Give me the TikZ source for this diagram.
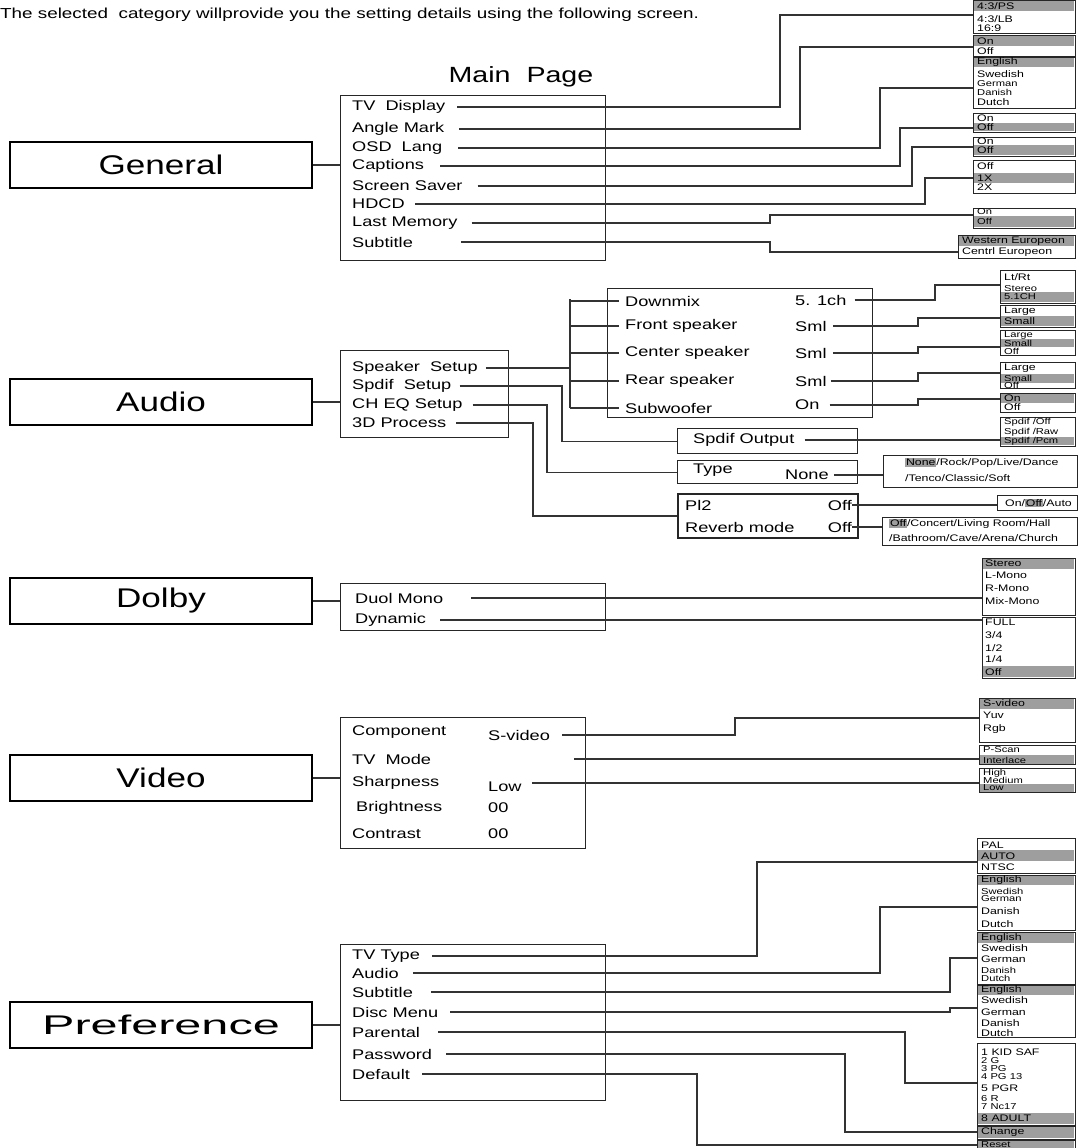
\documentclass[tikz,border=0pt]{standalone}
\usepackage{fontspec}
\setmainfont{Liberation Sans}[FakeStretch=1.3]
\newfontfamily\widefont{Liberation Sans}[FakeStretch=1.8]
\usetikzlibrary{calc}

\tikzset{
  catbox/.style={draw=black, line width=1.3pt, minimum width=302pt, minimum height=46pt, inner sep=0pt, font=\fontsize{27}{30}\selectfont},
  menubox/.style={draw=black!85, line width=1.3pt, anchor=north west, inner sep=0pt},
  item/.style={anchor=west, inner sep=0pt, font=\fontsize{14}{16}\selectfont},
  wire/.style={black!80, line width=1.2pt},
  optbox/.style={draw=black!85, line width=1.1pt, anchor=north west, inner sep=0pt},
  opt/.style={anchor=west, inner sep=0pt, font=\fontsize{9.5}{10}\selectfont},
  optsm/.style={opt, font=\fontsize{8.6}{9}\selectfont},
  hl/.style={fill=black!38},
}
\newcommand\menubox[5]{\node[menubox, minimum width={#4-#2}, minimum height={#5-#3}] (#1) at (#2,#3) {};}
\newcommand\optbox[6]{%
  \node[optbox, minimum width={#4-#2}, minimum height={#5-#3}] (#1) at (#2,#3) {};
  \coordinate (#1in) at (#2,#6);}
\newcommand\optrows[2]{\foreach \yy/\lbl in {#2}{\node[opt] (row-\yy) at (#1,\yy) {\lbl};}}
\newcommand\optrowsm[2]{\foreach \yy/\lbl in {#2}{\node[optsm] (row-\yy) at (#1,\yy) {\lbl};}}
\newcommand\hlw[1]{{\setlength{\fboxsep}{0.8pt}\colorbox{black!38}{#1}}}

\begin{document}
\begin{tikzpicture}[x=1pt, y=-1pt]
  \useasboundingbox (0,0) rectangle (1079,1148);

  % 1. heading
  \node[anchor=west, inner sep=0pt, font=\fontsize{14.5}{16}\selectfont] (intro) at (0,15)
    {The selected\ \ category willprovide you the setting details using the following screen.};
  \node[font=\fontsize{22}{24}\selectfont] (mainpage) at (521,77) {Main\ \ Page};

  % 2. General
  \node[catbox] (general) at (161,165) {General};
  \menubox{genmenu}{340}{95}{605}{260}
  \node[item] (tvd) at (352,107) {TV\ \ Display};
  \node[item] (ang) at (352,129) {Angle Mark};
  \node[item] (osd) at (352,148) {OSD\ \ Lang};
  \node[item] (cap) at (352,166) {Captions};
  \node[item] (scr) at (352,186) {Screen Saver};
  \node[item] (hdcd) at (352,204) {HDCD};
  \node[item] (lastm) at (352,223) {Last Memory};
  \node[item] (gsub) at (352,242) {Subtitle};
  \draw[wire] (general.east) -- (genmenu.west |- general.east);

  \fill[hl] (974,0) rectangle (1074,11);
  \fill[hl] (974,36) rectangle (1074,46);
  \fill[hl] (974,57) rectangle (1074,67);
  \fill[hl] (974,123) rectangle (1074,131);
  \fill[hl] (974,145) rectangle (1074,155);
  \fill[hl] (974,173) rectangle (1074,183);
  \fill[hl] (974,216) rectangle (1074,227);
  \fill[hl] (959,236) rectangle (1074,246);
  \optbox{dispopt}{973}{0}{1075}{33}{15}
  \optbox{angopt}{973}{35}{1075}{56}{47}
  \optbox{langopt}{973}{57}{1075}{108}{88}
  \optbox{capopt}{973}{113}{1075}{132}{128}
  \optbox{saveopt}{973}{137}{1075}{156}{147}
  \optbox{hdcdopt}{973}{160}{1075}{193}{178}
  \optbox{memopt}{973}{208}{1075}{228}{215}
  \optbox{subopt}{958}{235}{1075}{258}{252}
  \optrows{977}{6/{4:3/PS}, 19/{4:3/LB}, 28/{16:9}}
  \optrows{977}{41/On, 51/Off}
  \optrows{977}{62/English, 74/Swedish}
  \optrowsm{977}{84/German, 92/Danish}
  \optrows{977}{102/Dutch}
  \optrows{977}{118/On, 127/Off}
  \optrows{977}{141/On, 150/Off}
  \optrows{977}{166/Off, 178/1X, 187/2X}
  \optrowsm{977}{212/On, 221/Off}
  \optrows{962}{241/{Western Europeon}, 252/{Centrl Europeon}}

  \draw[wire] ([xshift=12]tvd.east) -| (780,15) -- (dispoptin);
  \draw[wire] ([xshift=15]ang.east) -| (800,47) -- (angoptin);
  \draw[wire] ([xshift=16]osd.east) -| (880,88) -- (langoptin);
  \draw[wire] ([xshift=16]cap.east) -| (900,128) -- (capoptin);
  \draw[wire] ([xshift=15]scr.east) -| (912,147) -- (saveoptin);
  \draw[wire] ([xshift=10]hdcd.east) -| (925,178) -- (hdcdoptin);
  \draw[wire] ([xshift=14]lastm.east) -| (770,215) -- (memoptin);
  \draw[wire] ([xshift=48]gsub.east) -| (770,252) -- (suboptin);

  % 3. Audio
  \node[catbox] (audio) at (161,402) {Audio};
  \menubox{audmenu}{340}{350}{508}{437}
  \node[item] (spk) at (352,368) {Speaker\ \ Setup};
  \node[item] (spd) at (352,386) {Spdif\ \ Setup};
  \node[item] (cheq) at (352,405) {CH EQ Setup};
  \node[item] (proc) at (352,423) {3D Process};
  \draw[wire] (audio.east) -- (audmenu.west |- audio.east);

  \menubox{spkmenu}{607}{288}{872}{417}
  \node[item] (dmix) at (625,301) {Downmix};
  \node[item] (front) at (625,326) {Front speaker};
  \node[item] (center) at (625,353) {Center speaker};
  \node[item] (rear) at (625,381) {Rear speaker};
  \node[item] (woof) at (625,408) {Subwoofer};
  \node[item] (dmixv) at (795,300) {5. 1ch};
  \node[item] (frontv) at (795,326) {Sml};
  \node[item] (centerv) at (795,353) {Sml};
  \node[item] (rearv) at (795,381) {Sml};
  \node[item] (woofv) at (795,405) {On};
  \coordinate (bustop) at (570,299);
  \coordinate (busbot) at (570,408);
  \draw[wire] (bustop) -- (busbot);
  \draw[wire] ([xshift=8]spk.east) -- (spk.east -| bustop);
  \foreach \n in {dmix,front,center,rear,woof}
    \draw[wire] (bustop |- \n.west) -- ([xshift=-6]\n.west);

  \menubox{spdout}{677}{428}{857}{453}
  \node[item] (spdtxt) at (693,440) {Spdif Output};
  \menubox{typebox}{677}{460}{857}{483}
  \node[item] (typetxt) at (693,470) {Type};
  \node[item] (typeval) at (785,475) {None};
  \node[menubox, line width=2pt, minimum width=180pt, minimum height=44pt] (pibox) at (677,493) {};
  \node[item] (pitxt) at (685,505) {Pl2};
  \node[item, anchor=east] (pival) at (852,505) {Off};
  \node[item] (revtxt) at (685,527) {Reverb mode};
  \node[item, anchor=east] (revval) at (852,527) {Off};
  \draw[wire] ([xshift=8]spd.east) -| ($(spdout.west)+(-115,0)$) -- (spdout.west);
  \draw[wire] ([xshift=10]cheq.east) -| ($(typebox.west)+(-130,0)$) -- (typebox.west);
  \draw[wire] ([xshift=10]proc.east) -| ($(pibox.west)+(-144,0)$) -- (pibox.west);

  \fill[hl] (1001,292) rectangle (1074,302);
  \fill[hl] (1001,316) rectangle (1074,326);
  \fill[hl] (1001,339) rectangle (1074,347);
  \fill[hl] (1001,374) rectangle (1074,383);
  \fill[hl] (1001,394) rectangle (1074,403);
  \fill[hl] (1001,437) rectangle (1074,445);
  \optbox{dmixopt}{1000}{270}{1075}{303}{285}
  \optbox{frontopt}{1000}{305}{1075}{327}{318}
  \optbox{centeropt}{1000}{330}{1075}{355}{347}
  \optbox{rearopt}{1000}{362}{1075}{388}{373}
  \optbox{woofopt}{1000}{393}{1075}{412}{399}
  \optbox{spdopt}{1000}{417}{1075}{446}{440}
  \optbox{typeopt}{883}{455}{1077}{487}{472}
  \optbox{piopt}{997}{495}{1077}{510}{503}
  \optbox{revopt}{882}{517}{1077}{545}{527}
  \optrows{1004}{277/{Lt/Rt}}
  \optrowsm{1004}{289/Stereo, 297/{5.1CH}}
  \optrows{1004}{311/Large, 321/Small}
  \optrowsm{1004}{335/Large, 343/Small, 351/Off}
  \optrows{1004}{368/Large}
  \optrowsm{1004}{378/Small, 385/Off}
  \optrows{1004}{398/On, 407/Off}
  \optrowsm{1004}{422/{Spdif /Off}, 432/{Spdif /Raw}, 441/{Spdif /Pcm}}
  \node[opt] (typerow1) at (905,463) {\hlw{None}/Rock/Pop/Live/Dance};
  \node[opt] (typerow2) at (905,478) {/Tenco/Classic/Soft};
  \node[opt] (pirow) at (1005,503) {On/\hlw{Off}/Auto};
  \node[opt] (revrow1) at (889,524) {\hlw{Off}/Concert/Living Room/Hall};
  \node[opt] (revrow2) at (889,538) {/Bathroom/Cave/Arena/Church};

  \draw[wire] ([xshift=8]dmixv.east) -| (935,285) -- (dmixoptin);
  \draw[wire] ([xshift=6]frontv.east) -| (918,318) -- (frontoptin);
  \draw[wire] ([xshift=6]centerv.east) -| (918,347) -- (centeroptin);
  \draw[wire] ([xshift=4]rearv.east) -| (918,373) -- (rearoptin);
  \draw[wire] ([xshift=10]woofv.east) -| (918,399) -- (woofoptin);
  \draw[wire] ([xshift=10]spdtxt.east) -- (spdtxt.east -| spdoptin);
  \draw[wire] ([xshift=5]typeval.east) -- (typeval.east -| typeopt.west);
  \draw[wire] (pival.east) -- (pival.east -| piopt.west);
  \draw[wire] (revval.east) -- (revval.east -| revopt.west);

  % 4. Dolby
  \node[catbox] (dolby) at (161,601) {Dolby};
  \menubox{dolmenu}{340}{583}{605}{630}
  \node[item] (mono) at (355,598) {Duol Mono};
  \node[item] (dyn) at (355,620) {Dynamic};
  \draw[wire] (dolby.east) -- (dolmenu.west |- dolby.east);
  \fill[hl] (983,559) rectangle (1074,569);
  \fill[hl] (983,666) rectangle (1074,677);
  \optbox{monoopt}{982}{558}{1075}{615}{602}
  \optbox{dynopt}{982}{617}{1075}{678}{619}
  \optrows{985}{563/Stereo, 575/L-Mono, 588/R-Mono, 601/Mix-Mono}
  \optrows{985}{622/FULL, 635/{3/4}, 648/{1/2}, 659/{1/4}, 672/Off}
  \draw[wire] ([xshift=28]mono.east) -- (mono.east -| monoopt.west);
  \draw[wire] ([xshift=14]dyn.east) -- (dyn.east -| dynopt.west);

  % 5. Video
  \node[catbox] (video) at (161,778) {Video};
  \menubox{vidmenu}{340}{717}{585}{848}
  \node[item] (comp) at (352,732) {Component};
  \node[item] (compv) at (488,735) {S-video};
  \node[item] (tvm) at (352,759) {TV\ \ Mode};
  \node[item] (sharp) at (352,783) {Sharpness};
  \node[item] (sharpv) at (488,787) {Low};
  \node[item] (bright) at (356,808) {Brightness};
  \node[item] (brightv) at (488,808) {00};
  \node[item] (contr) at (352,834) {Contrast};
  \node[item] (contrv) at (488,834) {00};
  \draw[wire] (video.east) -- (vidmenu.west |- video.east);
  \fill[hl] (980,699) rectangle (1074,709);
  \fill[hl] (980,755) rectangle (1074,764);
  \fill[hl] (980,784) rectangle (1074,792);
  \optbox{compopt}{979}{698}{1075}{742}{718}
  \optbox{tvmopt}{979}{745}{1075}{764}{761}
  \optbox{sharpopt}{979}{768}{1075}{792}{781}
  \optrows{983}{703/S-video, 715/Yuv, 729/Rgb}
  \optrowsm{983}{750/P-Scan, 760/Interlace}
  \optrowsm{983}{773/High, 780/Medium, 788/Low}
  \draw[wire] ([xshift=12]compv.east) -| (735,718) -- (compoptin);
  \draw[wire] ($(vidmenu.east |- tvm.east)+(-12,0)$) -- (tvm.east -| tvmopt.west);
  \draw[wire] ($(sharpv.east |- sharp.east)+(10,0)$) -- (sharp.east -| sharpopt.west);

  % 6. Preference
  \node[catbox, font=\widefont\fontsize{27}{30}\selectfont] (pref) at (161,1025) {Preference};
  \menubox{prefmenu}{340}{944}{605}{1100}
  \node[item] (tvt) at (352,956) {TV Type};
  \node[item] (paud) at (352,973) {Audio};
  \node[item] (psub) at (352,992) {Subtitle};
  \node[item] (disc) at (352,1012) {Disc Menu};
  \node[item] (parent) at (352,1032) {Parental};
  \node[item] (pass) at (352,1054) {Password};
  \node[item] (dflt) at (352,1074) {Default};
  \draw[wire] (pref.east) -- (prefmenu.west |- pref.east);
  \fill[hl] (978,850) rectangle (1074,861);
  \fill[hl] (978,876) rectangle (1074,885);
  \fill[hl] (978,933) rectangle (1074,943);
  \fill[hl] (978,986) rectangle (1074,995);
  \fill[hl] (978,1113) rectangle (1074,1124);
  \fill[hl] (978,1127) rectangle (1074,1138);
  \fill[hl] (978,1141) rectangle (1074,1152);
  \optbox{tvtopt}{977}{838}{1075}{873}{862}
  \optbox{paudopt}{977}{875}{1075}{930}{907}
  \optbox{psubopt}{977}{932}{1075}{984}{958}
  \optbox{discopt}{977}{985}{1075}{1037}{1008}
  \optbox{parentopt}{977}{1043}{1075}{1125}{1083}
  \optbox{passopt}{977}{1126}{1075}{1139}{1132}
  \optbox{dfltopt}{977}{1140}{1075}{1153}{1145}
  \optrows{981}{845/PAL, 856/AUTO, 867/NTSC}
  \optrows{981}{880/English}
  \optrowsm{981}{891/Swedish, 899/German}
  \optrows{981}{911/Danish, 924/Dutch}
  \optrows{981}{938/English, 948/Swedish, 959/German}
  \optrowsm{981}{970/Danish, 978/Dutch}
  \optrows{981}{990/English, 1000/Swedish, 1012/German, 1023/Danish, 1033/Dutch}
  \optrows{981}{1052/{1 KID SAF}}
  \optrowsm{981}{1061/{2 G}, 1069/{3 PG}, 1077/{4 PG 13}}
  \optrows{981}{1088/{5 PGR}}
  \optrowsm{981}{1099/{6 R}, 1107/{7 Nc17}}
  \optrows{981}{1118/{8 ADULT}}
  \optrows{981}{1132/Change}
  \optrowsm{981}{1145/Reset}
  \draw[wire] ([xshift=12]tvt.east) -| (757,862) -- (tvtoptin);
  \draw[wire] ([xshift=14]paud.east) -| (880,907) -- (paudoptin);
  \draw[wire] ([xshift=18]psub.east) -| (950,958) -- (psuboptin);
  \draw[wire] ([xshift=12]disc.east) -| (950,1008) -- (discoptin);
  \draw[wire] ([xshift=18]parent.east) -| (905,1083) -- (parentoptin);
  \draw[wire] ([xshift=14]pass.east) -| (845,1132) -- (passoptin);
  \draw[wire] ([xshift=12]dflt.east) -| (697,1145) -- (dfltoptin);
\end{tikzpicture}
\end{document}
